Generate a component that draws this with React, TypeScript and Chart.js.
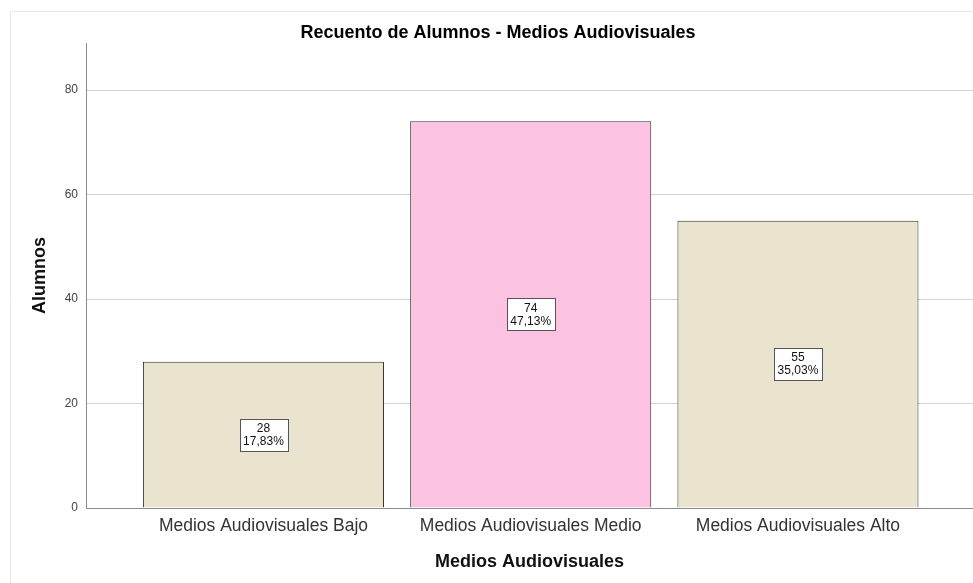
import React, { useEffect, useRef } from "react";
import { Chart, registerables } from "chart.js";

Chart.register(...registerables);

const categories = [
  "Medios Audiovisuales Bajo",
  "Medios Audiovisuales Medio",
  "Medios Audiovisuales Alto",
];
const counts = [28, 74, 55];
const barColors = ["rgb(234,227,205)", "rgb(251,195,225)", "rgb(234,227,205)"];
const yTicks = [0, 20, 40, 60, 80];
const chartTitle = "Recuento de Alumnos - Medios Audiovisuales";
const xTitle = "Medios Audiovisuales";
const yTitle = "Alumnos";

const FONT = "'Liberation Sans', Arial, sans-serif";

export default function App() {
  const ref = useRef<HTMLCanvasElement | null>(null);

  useEffect(() => {
    const canvas = ref.current;
    if (!canvas) return;
    const total = counts.reduce((a, b) => a + b, 0);

    const framePlugin = {
      id: "frame",
      beforeDraw(chart: any) {
        const ctx = chart.ctx;
        ctx.save();
        ctx.fillStyle = "#ffffff";
        ctx.fillRect(0, 0, chart.width, chart.height);
        ctx.strokeStyle = "#e8e8e8";
        ctx.lineWidth = 1;
        ctx.beginPath();
        ctx.moveTo(10.5, chart.height);
        ctx.lineTo(10.5, 11.5);
        ctx.lineTo(chart.width, 11.5);
        ctx.stroke();
        ctx.restore();
      },
      afterDraw(chart: any) {
        const ctx = chart.ctx;
        ctx.save();
        ctx.fillStyle = "#000";
        ctx.font = `bold 18px ${FONT}`;
        ctx.textAlign = "center";
        ctx.textBaseline = "alphabetic";
        ctx.fillText(chartTitle, 498, 38);
        ctx.restore();
      },
    };

    const labelPlugin = {
      id: "boxLabels",
      afterDatasetsDraw(chart: any) {
        const ctx = chart.ctx;
        const meta = chart.getDatasetMeta(0);
        ctx.save();
        ctx.font = `12px ${FONT}`;
        meta.data.forEach((el: any, i: number) => {
          const v = counts[i];
          const pct = ((v / total) * 100).toFixed(2).replace(".", ",") + "%";
          const lines = [String(v), pct];
          const w = Math.max(...lines.map((l) => ctx.measureText(l).width)) + 7;
          const lh = 13;
          const h = lh * 2 + 6;
          const cx = el.x;
          const cy = (el.y + el.base) / 2;
          const x0 = Math.round(cx - w / 2) + 0.5;
          const y0 = Math.round(cy - h / 2) + 0.5;
          ctx.fillStyle = "#ffffff";
          ctx.fillRect(x0, y0, Math.round(w), h);
          ctx.strokeStyle = "#555";
          ctx.lineWidth = 1;
          ctx.strokeRect(x0, y0, Math.round(w), h);
          ctx.fillStyle = "#111";
          ctx.textAlign = "center";
          ctx.textBaseline = "middle";
          ctx.fillText(lines[0], cx, cy - lh / 2 + 0.5);
          ctx.fillText(lines[1], cx, cy + lh / 2 + 0.5);
        });
        ctx.restore();
      },
    };

    const chart = new Chart(canvas, {
      type: "bar",
      data: {
        datasets: [
          {
            data: counts.map((c, i) => ({ x: i, y: c })),
            backgroundColor: barColors,
            borderColor: "#333333",
            borderWidth: 1,
            barPercentage: 0.902,
            categoryPercentage: 1,
          },
        ],
      },
      options: {
        responsive: false,
        animation: false,
        devicePixelRatio: 1,
        layout: { padding: { top: 43, left: 0, right: 0, bottom: 0 } },
        plugins: {
          legend: { display: false },
          tooltip: { enabled: false },
          title: { display: false },
        },
        scales: {
          x: {
            type: "linear",
            min: -0.664,
            max: 2.655,
            offset: false,
            grid: { display: false, offset: false, drawTicks: false },
            border: { display: true, color: "#8c8c8c", width: 1 },
            afterBuildTicks: (scale: any) => {
              scale.ticks = categories.map((_, i) => ({ value: i }));
            },
            afterFit: (scale: any) => {
              scale.height = 75;
            },
            ticks: {
              padding: 8,
              autoSkip: false,
              maxRotation: 0,
              color: "#333",
              font: { family: FONT, size: 17.5 },
              callback: (v: any) => categories[v as number] ?? "",
            },
            title: {
              display: true,
              text: xTitle,
              color: "#111",
              font: { family: FONT, size: 18, weight: "bold" },
              padding: { top: 0, bottom: 10 },
            },
          },
          y: {
            type: "linear",
            min: 0,
            max: 89,
            afterBuildTicks: (scale: any) => {
              scale.ticks = yTicks.map((v) => ({ value: v }));
            },
            afterFit: (scale: any) => {
              scale.width = 86;
            },
            grid: {
              drawTicks: false,
              color: (c: any) => (c.tick && c.tick.value === 0 ? "rgba(0,0,0,0)" : "#d2d2d2"),
              lineWidth: 1,
            },
            border: { display: true, color: "#8c8c8c", width: 1 },
            ticks: {
              padding: 8,
              color: "#444",
              font: { family: FONT, size: 12 },
            },
            title: {
              display: true,
              text: yTitle,
              color: "#111",
              font: { family: FONT, size: 18, weight: "bold" },
              padding: { top: 29, bottom: 0 },
            },
          },
        },
      },
      plugins: [framePlugin, labelPlugin],
    } as any);

    return () => chart.destroy();
  }, []);

  return (
    <div style={{ position: "absolute", left: 0, top: 0, width: 973, height: 583, background: "#fff" }}>
      <canvas ref={ref} width={973} height={583} style={{ display: "block", width: 973, height: 583 }} />
    </div>
  );
}
